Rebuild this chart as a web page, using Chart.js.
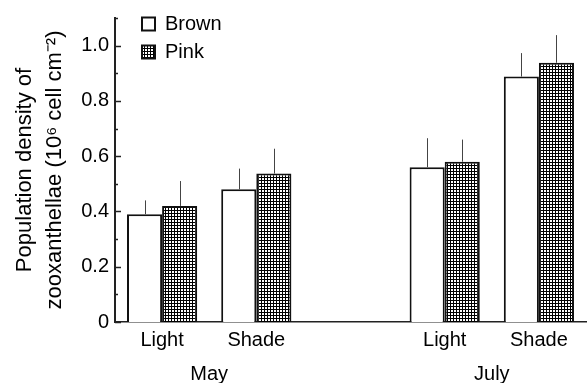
<!DOCTYPE html>
<html>
<head>
<meta charset="utf-8">
<script src="https://cdn.jsdelivr.net/npm/chart.js@4.4.0/dist/chart.umd.min.js"></script>
<style>
  body { margin: 0; background: #fff; }
</style>
</head>
<body>
<canvas id="grafico" width="587" height="383"></canvas>
<script>
const groups = ["May", "July"];
const conditions = ["Light", "Shade"];
// order: May Light, May Shade, July Light, July Shade
const brown = [0.39, 0.48, 0.56, 0.888];
const pink = [0.42, 0.537, 0.58, 0.938];
const brownErr = [0.05, 0.075, 0.105, 0.085];
const pinkErr = [0.09, 0.09, 0.08, 0.10];

// category labels, with an empty slot between the months
const labels = [];
const groupCenters = [];
groups.forEach((g, i) => {
    if (i > 0) labels.push("");
    groupCenters.push(labels.length + (conditions.length - 1) / 2);
    conditions.forEach((c) => labels.push(c));
});

function withGaps(values){
    const out = [];
    let k = 0;
    groups.forEach((g, i) => {
        if (i > 0) out.push(null);
        conditions.forEach(() => out.push(values[k++]));
    });
    return out;
}

const canvas = document.getElementById("grafico");

function gridPattern(){
    const tile = document.createElement("canvas");
    tile.width = 3;
    tile.height = 3;
    const t = tile.getContext("2d");
    t.fillStyle = "#fff";
    t.fillRect(0, 0, 3, 3);
    t.fillStyle = "#000";
    t.fillRect(0, 0, 3, 1);
    t.fillRect(0, 0, 1, 3);
    return canvas.getContext("2d").createPattern(tile, "repeat");
}

const errorBars = {
    id: "errorBars",
    afterDatasetsDraw(chart){
        const ctx = chart.ctx;
        const yScale = chart.scales.y;
        ctx.save();
        ctx.strokeStyle = "#444";
        ctx.lineWidth = 1;
        chart.data.datasets.forEach((ds, i) => {
            chart.getDatasetMeta(i).data.forEach((bar, j) => {
                if (ds.data[j] == null) return;
                const top = yScale.getPixelForValue(ds.data[j] + ds.errors[j]);
                const x = Math.round(bar.x) + 0.5;
                ctx.beginPath();
                ctx.moveTo(x, bar.y);
                ctx.lineTo(x, top);
                ctx.stroke();
            });
        });
        ctx.restore();
    }
};

// tick marks point into the plot, long ones at labelled values
const innerTicks = {
    id: "innerTicks",
    afterDraw(chart){
        const y = chart.scales.y;
        const ctx = chart.ctx;
        ctx.save();
        ctx.strokeStyle = "#222";
        ctx.lineWidth = 1.5;
        y.ticks.forEach((t) => {
            const py = Math.round(y.getPixelForValue(t.value)) + 0.5;
            const len = Math.round(t.value * 10) % 2 ? 3 : 6;
            ctx.beginPath();
            ctx.moveTo(y.right, py);
            ctx.lineTo(y.right + len, py);
            ctx.stroke();
        });
        ctx.restore();
    }
};

// nudge the legend into the top left corner of the plot
const moveLegend = {
    id: "moveLegend",
    afterLayout(chart){
        const lg = chart.legend;
        const h = lg.height;
        const w = lg.width;
        lg.left = chart.chartArea.left + 19;
        lg.top = 6;
        lg.right = lg.left + w;
        lg.bottom = lg.top + h;
    }
};

Chart.defaults.font.family = 'Arial, "Liberation Sans", Helvetica, sans-serif';
Chart.defaults.color = "#000";

const grafico = new Chart(canvas, {
    type: "bar",
    data: {
        labels,
        datasets: [
            {
                label: "Brown",
                data: withGaps(brown),
                errors: withGaps(brownErr),
                backgroundColor: "#fff",
                borderColor: "#111",
                borderWidth: 2
            },
            {
                label: "Pink",
                data: withGaps(pink),
                errors: withGaps(pinkErr),
                backgroundColor: gridPattern(),
                borderColor: "#111",
                borderWidth: 2
            }
        ]
    },
    options: {
        responsive: false,
        animation: false,
        layout: { padding: { top: 12, right: 1, left: 0, bottom: 0 } },
        datasets: { bar: { categoryPercentage: 0.745, barPercentage: 1 } },
        plugins: {
            legend: {
                position: "chartArea",
                align: "start",
                labels: { boxWidth: 13, boxHeight: 13, padding: 8, color: "#000", font: { size: 20 } }
            },
            tooltip: { enabled: false }
        },
        scales: {
            x: {
                type: "category",
                offset: true,
                grid: { display: false, drawTicks: false },
                border: { display: true, color: "#222", width: 1.5 },
                ticks: { color: "#000", font: { size: 20 }, padding: 6, maxRotation: 0, autoSkip: false },
                afterFit(s){ s.height = 36; }
            },
            x2: {
                type: "linear",
                position: "bottom",
                weight: 1,
                offset: false,
                min: -0.5,
                max: labels.length - 0.5,
                grid: { display: false, drawTicks: false },
                border: { display: false },
                afterBuildTicks(s){ s.ticks = groupCenters.map((v) => ({ value: v })); },
                ticks: {
                    color: "#000",
                    font: { size: 20 },
                    padding: 4,
                    maxRotation: 0,
                    autoSkip: false,
                    callback: (v, i) => groups[i]
                },
                afterFit(s){ s.height = 25; }
            },
            y: {
                min: 0,
                max: 1.1,
                grid: { display: false, drawTicks: false },
                border: { display: true, color: "#222", width: 2 },
                ticks: {
                    stepSize: 0.1,
                    autoSkip: false,
                    padding: 6,
                    color: "#000",
                    font: { size: 20 },
                    callback: (v) => Math.round(v * 10) % 2 ? "" : (v === 0 ? "0" : v.toFixed(1))
                },
                title: {
                    display: true,
                    text: ["Population density of", "zooxanthellae (10\u2076 cell cm\u207B\u00B2)"],
                    color: "#000",
                    font: { size: 22, lineHeight: 1.35 },
                    padding: { top: 10, bottom: 0 }
                },
                afterFit(s){ s.width = 115; }
            }
        }
    },
    plugins: [errorBars, innerTicks, moveLegend]
});
</script>
</body>
</html>
